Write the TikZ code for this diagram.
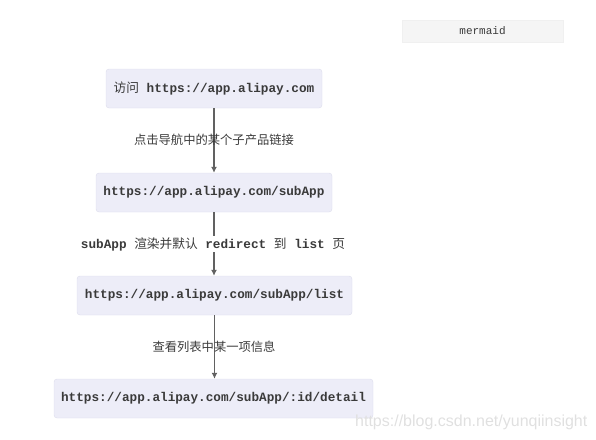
\documentclass[tikz,border=0pt]{standalone}
\usepackage{fontspec}
\setmonofont{Liberation Mono}
\setsansfont{Liberation Sans}
\newfontfamily\cjk{Noto Sans CJK SC}
\usetikzlibrary{positioning,arrows.meta}
\definecolor{boxfill}{HTML}{EDEDF8}
\definecolor{boxline}{HTML}{DCDCEC}
\definecolor{ink}{HTML}{3A3A3A}
\begin{document}
	\begin{tikzpicture}[
			x=1pt, y=-1pt,
			page/.style={draw, rounded corners=3pt, fill=boxfill, draw=boxline, text=ink,
					minimum height=39pt, inner sep=0pt, font=\ttfamily\bfseries\fontsize{12.7}{14}\selectfont},
			edgelabel/.style={text=ink, inner sep=1pt, font=\ttfamily\bfseries\fontsize{12.7}{14}\selectfont},
			link/.style={draw=ink!80, line width=1.4pt, -{Latex[length=6pt,width=6pt]}}
		]
		\useasboundingbox (0,0) rectangle (596,439);

		\node[page, minimum width=216pt] (visit) at (214,88.5) {{\cjk\mdseries 访问} https://app.alipay.com};
		\node[page, minimum width=236pt] (sub) at (214,192.5) {https://app.alipay.com/subApp};
		\node[page, minimum width=275pt] (list) at (214.5,295.5) {https://app.alipay.com/subApp/list};
		\node[page, minimum width=319pt] (detail) at (213.5,398.5) {https://app.alipay.com/subApp/:id/detail};

		\draw[link] (visit.south -| sub) -- (sub.north);
		\draw[link] (sub.south) -- (sub.south |- list.north);
		\draw[link] (list.south) -- (list.south |- detail.north);

		\node[edgelabel] (clicktext) at (214,140) {\cjk\mdseries\fontsize{12.3}{14}\selectfont 点击导航中的某个子产品链接};
		\node[edgelabel, fill=white] (redirecttext) at (213,244) {subApp {\cjk\mdseries 渲染并默认} redirect {\cjk\mdseries 到} list {\cjk\mdseries 页}};
		\node[edgelabel] (viewtext) at (214,347) {\cjk\mdseries\fontsize{12.3}{14}\selectfont 查看列表中某一项信息};

		% mermaid tag
		\node[fill=black!4, draw=black!6, minimum width=161pt, minimum height=22pt, inner sep=0pt,
			text=ink, font=\ttfamily\fontsize{11}{12}\selectfont] (tag) at (482.5,31) {mermaid};

		% watermark
		\node[anchor=west, inner sep=0pt, text=black!12, font=\sffamily\fontsize{16}{18}\selectfont]
			(mark) at (355,422) {https://blog.csdn.net/yunqiinsight};
	\end{tikzpicture}
\end{document}
